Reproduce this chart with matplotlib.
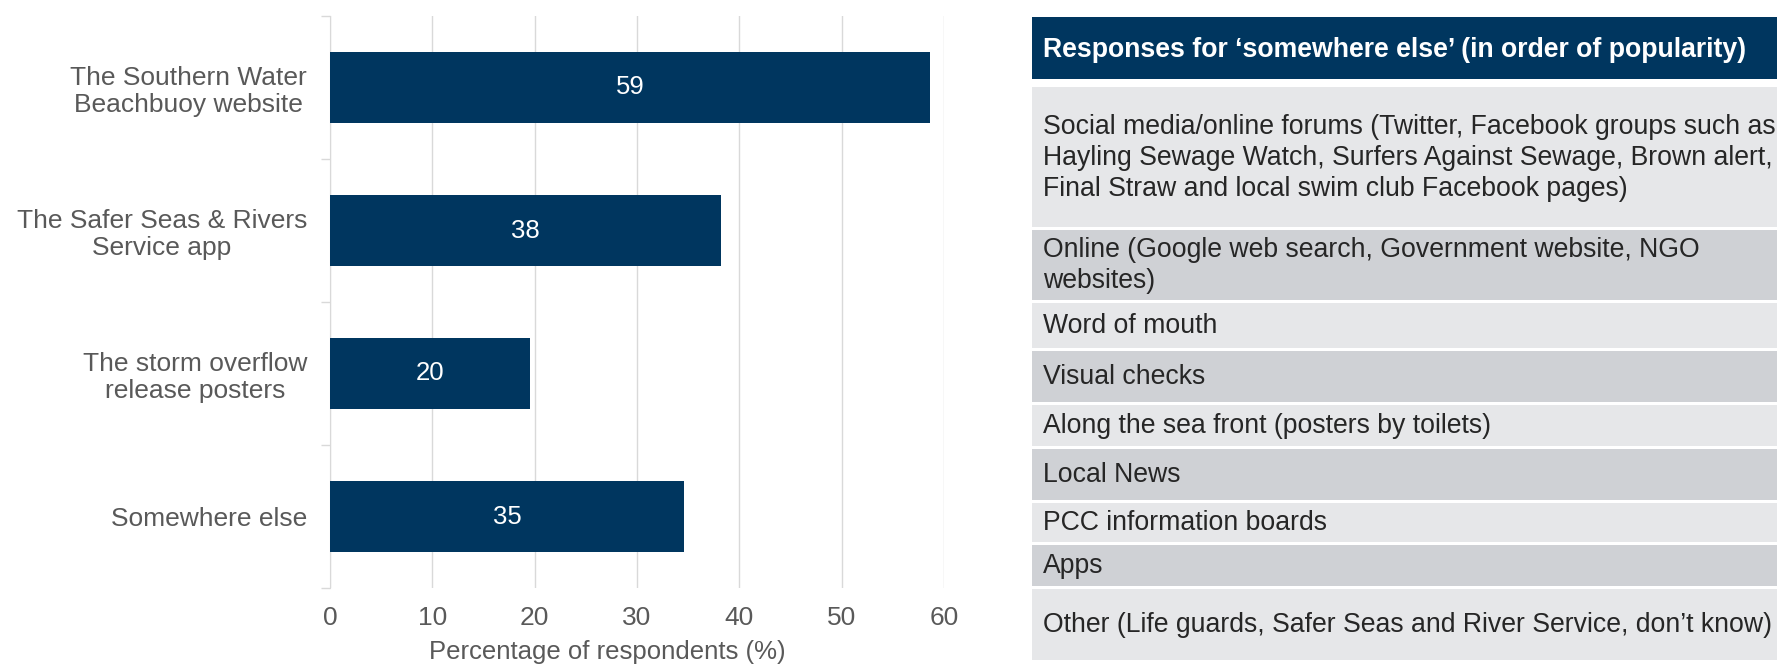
import matplotlib
matplotlib.use('Agg')
import matplotlib.pyplot as plt
from matplotlib.patches import Rectangle

plt.rcParams['font.family'] = ['Liberation Sans', 'DejaVu Sans']

# ---- data ----
sources = ['The Southern Water\nBeachbuoy website',
           'The Safer Seas & Rivers\nService app',
           'The storm overflow\nrelease posters',
           'Somewhere else']
pct = [58.6, 38.2, 19.5, 34.6]
pct_labels = ['59', '38', '20', '35']
x_ticks = [0, 10, 20, 30, 40, 50, 60]

table_title = 'Responses for \u2018somewhere else\u2019 (in order of popularity)'
other_responses = [
    'Social media/online forums (Twitter, Facebook groups such as\n'
    'Hayling Sewage Watch, Surfers Against Sewage, Brown alert,\n'
    'Final Straw and local swim club Facebook pages)',
    'Online (Google web search, Government website, NGO\nwebsites)',
    'Word of mouth',
    'Visual checks',
    'Along the sea front (posters by toilets)',
    'Local News',
    'PCC information boards',
    'Apps',
    'Other (Life guards, Safer Seas and River Service, don\u2019t know)',
]

# ---- layout (pixels) ----
W, H = 1777, 667
row_heights = [140, 70, 45, 51, 41, 51, 39, 41, 71]
NAVY = '#00365f'
GREY_TXT = '#595959'
GRID = '#d9d9d9'

fig = plt.figure(figsize=(W / 100, H / 100), dpi=100)

# table drawn in pixel coordinates
tax = fig.add_axes([0, 0, 1, 1])
tax.set_xlim(0, W)
tax.set_ylim(H, 0)
tax.axis('off')

tab_left = 1032
tax.add_patch(Rectangle((tab_left, 17.3), W - tab_left, 61.7, color=NAVY, lw=0))
tax.text(1043, 50, table_title, color='white', fontsize=19.2, fontweight='bold',
         va='center', ha='left')

y = 86.7
for i, (txt, h) in enumerate(zip(other_responses, row_heights)):
    fc = '#e6e7e9' if i % 2 == 0 else '#cfd1d5'
    tax.add_patch(Rectangle((tab_left, y), W - tab_left, h, color=fc, lw=0))
    tax.text(1043, y + h / 2 + 1, txt, color='#262626', fontsize=19.2,
             va='center', ha='left', linespacing=1.26)
    y += h + 3

# bar chart
ax = fig.add_axes([330 / W, 1 - 588 / H, (944 - 330) / W, (588 - 16) / H])
ypos = list(range(len(sources)))
bars = ax.barh(ypos, pct, height=0.5, color=NAVY, zorder=3)
for b, lab in zip(bars, pct_labels):
    ax.text(b.get_width() / 2, b.get_y() + b.get_height() / 2, lab,
            ha='center', va='center', color='white', fontsize=18.5, zorder=4)

ax.set_xlim(0, 60)
ax.set_ylim(len(sources) - 0.5, -0.5)
ax.set_yticks(ypos)
ax.set_yticklabels(sources, fontsize=19, color=GREY_TXT, linespacing=1.18)
for lab in ax.get_yticklabels():
    lab.set_multialignment('center')
ax.set_yticks([i - 0.5 for i in range(len(sources) + 1)], minor=True)
ax.tick_params(axis='y', which='major', length=0, pad=16.5)
ax.tick_params(axis='y', which='minor', length=6.5, color=GRID, width=1)
ax.set_xticks(x_ticks)
ax.tick_params(axis='x', length=0, labelsize=19, labelcolor=GREY_TXT, pad=13)
ax.grid(axis='x', color=GRID, linewidth=1, zorder=0)
for s in ['top', 'right', 'bottom']:
    ax.spines[s].set_visible(False)
ax.spines['left'].set_color(GRID)

ax.set_xlabel('Percentage of respondents (%)', fontsize=18.5, color=GREY_TXT)
ax.xaxis.label.set_va('center')
ax.xaxis.set_label_coords(0.452, -0.112)

fig.savefig('out.png', dpi=100, facecolor='white')
